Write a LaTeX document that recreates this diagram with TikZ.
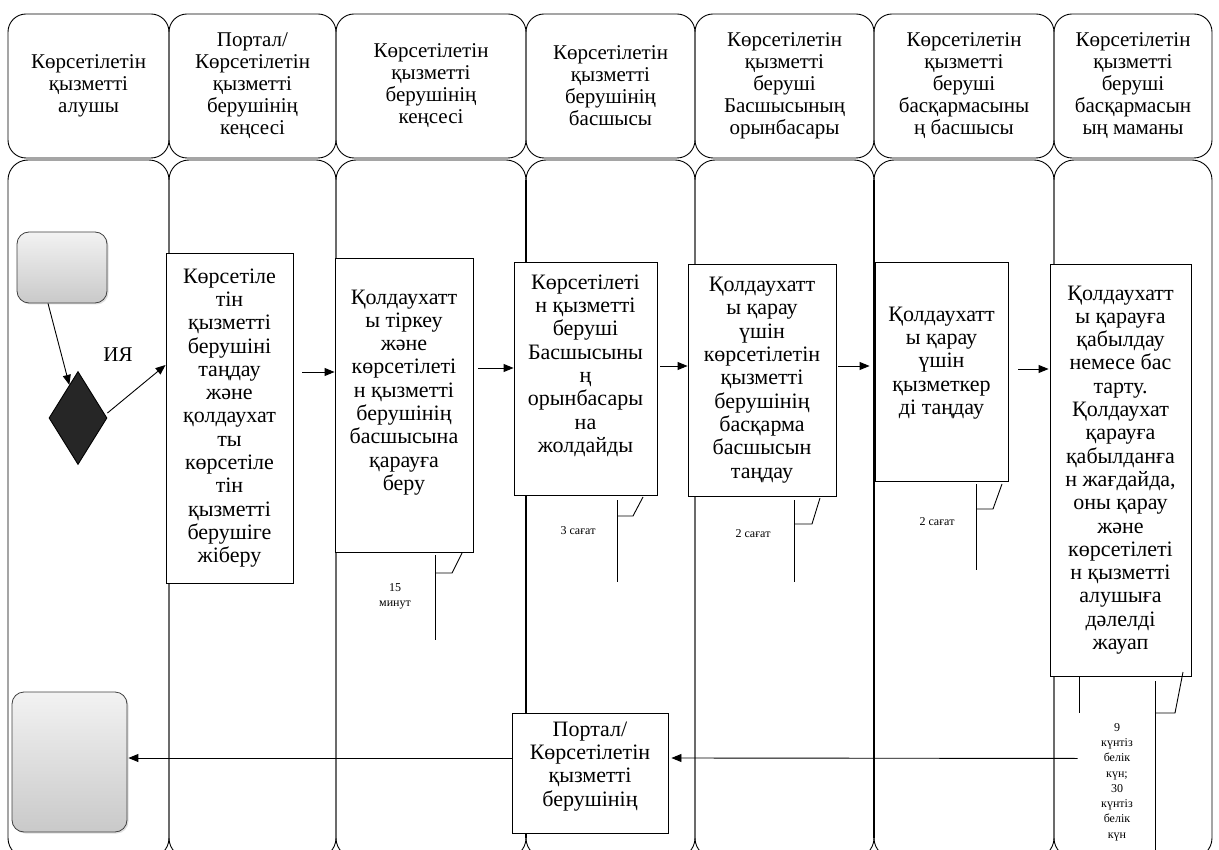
\documentclass[tikz,border=0pt]{standalone}
\usepackage{fontspec}
\setmainfont{Liberation Serif}
\usetikzlibrary{shapes.geometric,arrows.meta,calc,shadows}
\begin{document}
\begin{tikzpicture}[x=1pt,y=-1pt,
  lane/.style={draw=black, line width=0.9pt, rounded corners=20pt},
  hdr/.style={draw=black, line width=0.9pt, rounded corners=18pt, align=center, inner sep=0pt,
    minimum height=144pt, font=\fontsize{21}{22}\selectfont},
  box/.style={draw=black, line width=0.9pt, fill=white, align=center, inner sep=0pt,
    font=\fontsize{22}{23.3}\selectfont},
  lift/.style={text depth=#1},
  term/.style={draw=black!75, line width=0.8pt, rounded corners=12pt, top color=gray!10,
    bottom color=gray!42, inner sep=0pt,
    drop shadow={opacity=0.25, shadow xshift=1.5pt, shadow yshift=-1.5pt}},
  dec/.style={diamond, draw=black, fill=black!85, line width=0.9pt, minimum width=58pt,
    minimum height=93pt, inner sep=0pt},
  arr/.style={-{Triangle[length=10pt,width=8pt]}, line width=0.9pt},
  note/.style={line width=0.9pt},
  small/.style={align=center, inner sep=0pt, font=\fontsize{12}{15.3}\selectfont},
  lbl/.style={inner sep=0pt, font=\fontsize{21}{22}\selectfont},
  thick lane/.style={line width=2.4pt},
]
\path[use as bounding box] (0,0) rectangle (1219,850);
\clip (0,0) rectangle (1219,850);

% lanes
\draw[lane] (8,160) rectangle (169,858);
\draw[lane] (169,160) rectangle (336,858);
\draw[lane] (336,160) rectangle (526,858);
\draw[lane] (526,160) rectangle (695,858);
\draw[lane] (695,160) rectangle (874,858);
\draw[lane] (874,160) rectangle (1054,858);
\draw[lane] (1054,160) rectangle (1212,858);
\draw[thick lane] (526,180) -- (526,838);
\draw[thick lane] (874,180) -- (874,838);

% headers
\node[hdr, minimum width=161pt] (h1) at (88.5,86) {Көрсетілетін\\қызметті\\алушы};
\node[hdr, minimum width=167pt] (h2) at (252.5,86) {Портал/\\Көрсетілетін\\қызметті\\берушінің\\кеңсесі};
\node[hdr, minimum width=190pt] (h3) at (431,86) {Көрсетілетін\\қызметті\\берушінің\\кеңсесі};
\node[hdr, minimum width=169pt] (h4) at (610.5,86) {Көрсетілетін\\қызметті\\берушінің\\басшысы};
\node[hdr, minimum width=179pt] (h5) at (784.5,86) {Көрсетілетін\\қызметті\\беруші\\Басшысының\\орынбасары};
\node[hdr, minimum width=180pt] (h6) at (964,86) {Көрсетілетін\\қызметті\\беруші\\басқармасыны\\ң басшысы};
\node[hdr, minimum width=158pt] (h7) at (1133,86) {Көрсетілетін\\қызметті\\беруші\\басқармасын\\ың маманы};

% start, decision
\node[term, minimum width=90pt, minimum height=71pt] (start) at (62,267.5) {};
\node[dec] (dia) at (78,418) {};
\node[lbl] (ija) at (118,355) {ИЯ};

% process boxes
\node[box, minimum width=127pt, minimum height=330pt] (box1) at (229.5,418)
  {Көрсетіле\\тін\\қызметті\\берушіні\\таңдау\\және\\қолдаухат\\ты\\көрсетіле\\тін\\қызметті\\берушіге\\жіберу};
\node[box, lift=30pt, minimum width=138pt, minimum height=294pt] (box2) at (404,405)
  {Қолдаухатт\\ы тіркеу\\және\\көрсетілеті\\н қызметті\\берушінің\\басшысына\\қарауға\\беру};
\node[box, lift=30pt, minimum width=143pt, minimum height=233pt] (box3) at (585.5,378.5)
  {Көрсетілеті\\н қызметті\\беруші\\Басшысыны\\ң\\орынбасары\\на\\жолдайды};
\node[box, minimum width=148pt, minimum height=232pt] (box4) at (762,380)
  {Қолдаухатт\\ы қарау\\үшін\\көрсетілетін\\қызметті\\берушінің\\басқарма\\басшысын\\таңдау};
\node[box, lift=22pt, minimum width=133pt, minimum height=219pt] (box5) at (941.5,371.5)
  {Қолдаухатт\\ы қарау\\үшін\\қызметкер\\ді таңдау};
\node[box, minimum width=141pt, minimum height=412pt] (box6) at (1120.5,470)
  {Қолдаухатт\\ы қарауға\\қабылдау\\немесе бас\\тарту.\\Қолдаухат\\қарауға\\қабылданға\\н жағдайда,\\оны қарау\\және\\көрсетілеті\\н қызметті\\алушыға\\дәлелді\\жауап};
\node[box, minimum width=156pt, minimum height=120pt, lift=18pt] (portal) at (590,773)
  {Портал/\\Көрсетілетін\\қызметті\\берушінің};
\node[term, minimum width=115pt, minimum height=140pt] (end) at (69.5,762) {};

% connectors
\draw[arr] ($(start.south)+(-14,0)$) -- (dia);
\draw[arr] ($(dia.east)+(0,-5)$) -- ($(box1.west)+(0,-53)$);
\draw[arr] ($(box1.east)+(9,-46)$) -- ($(box2.west)+(0,-33)$);
\draw[arr] ($(box2.east)+(5,-37)$) -- ($(box3.west)+(0,-10.5)$);
\draw[arr] ($(box3.east)+(3,-12.5)$) -- ($(box4.west)+(0,-14)$);
\draw[arr] ($(box4.east)+(2,-14)$) -- ($(box5.west)+(-5,-5.5)$);
\draw[arr] ($(box5.east)+(10,-2.5)$) -- ($(box6.west)+(-1,-101)$);
\coordinate (ret) at ($(box6.south west)+(28,82)$);
\draw[arr] (ret) -- ($(portal.east)+(3,-15)$);
\draw[arr] ($(portal.west)+(0,-15)$) -- ($(end.east)+(1,-4)$);

% time notes
\draw[note] (435,555) -- (435,640);
\draw[note] (435,573) -- (452,573) -- (462,553);
\node[small] (t2) at (395,596) {15\\минут};
\draw[note] (617,500) -- (617,582);
\draw[note] (617,516) -- (633,516) -- (643,497);
\node[small] (t3) at (578,531) {3 сағат};
\draw[note] (794,500) -- (794,582);
\draw[note] (794,524) -- (812,524) -- (820,498);
\node[small] (t4) at (753,534) {2 сағат};
\draw[note] (976,484) -- (976,570);
\draw[note] (976,509) -- (993,509) -- (1002,484);
\node[small] (t5) at (937,522) {2 сағат};
\draw[note] (1079,677) -- (1079,713);
\draw[note] (1155,681) -- (1155,852);
\draw[note] (1155,713) -- (1175,713) -- (1183,672);
\node[small] (t6) at (1117,782) {9\\күнтіз\\белік\\күн;\\30\\күнтіз\\белік\\күн};
\end{tikzpicture}
\end{document}
